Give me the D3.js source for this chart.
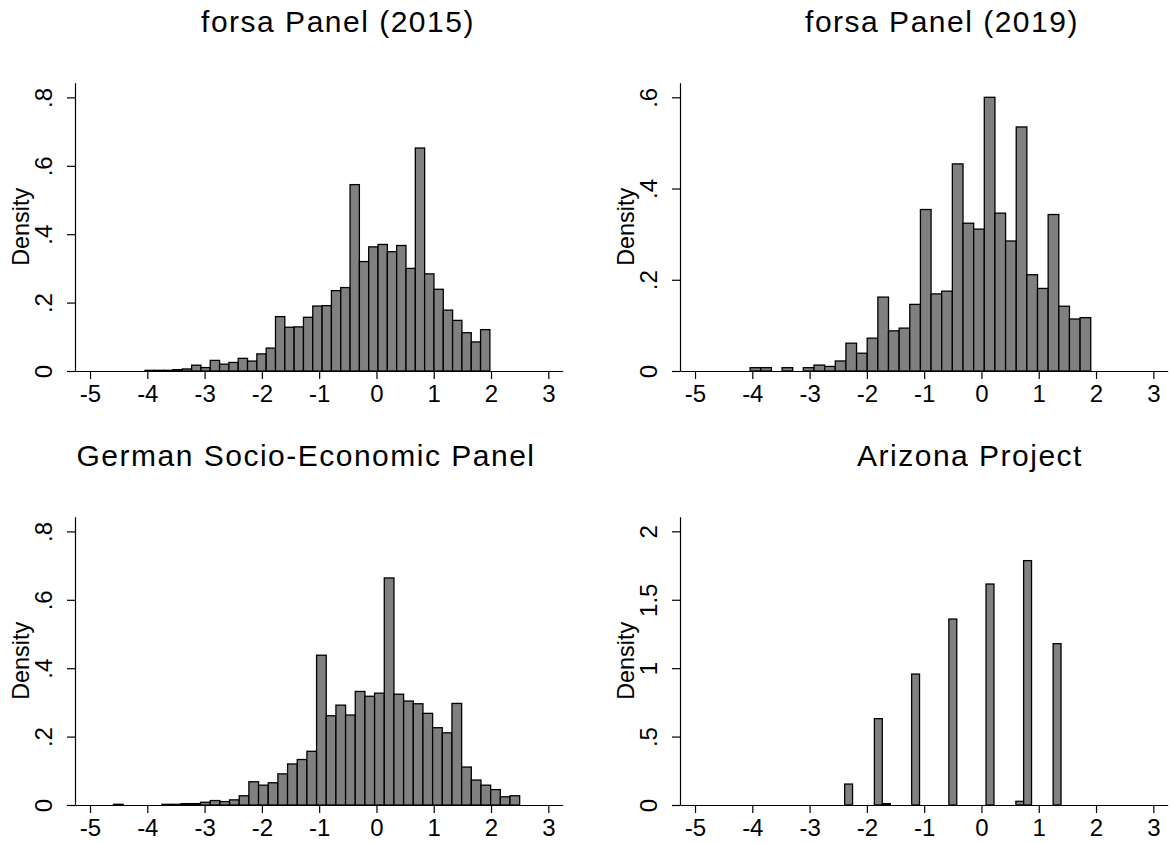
<!DOCTYPE html>
<html>
<head>
<meta charset="utf-8">
<script src="https://cdn.jsdelivr.net/npm/d3@7"></script>
<style>
  body { margin: 0; background: #fff; }
  svg { display: block; }
  text { font-family: "Liberation Sans", Arial, Helvetica, sans-serif; fill: #000; }
</style>
</head>
<body>
<svg id="chart" width="1173" height="843"></svg>
<script>
// ---- Data -------------------------------------------------------------
const panelTitles = ["forsa Panel (2015)", "forsa Panel (2019)", "German Socio-Economic Panel", "Arizona Project"];
const yAxisTitle = "Density";

const xTickValues = [-5, -4, -3, -2, -1, 0, 1, 2, 3];
const xTickLabels = ["-5", "-4", "-3", "-2", "-1", "0", "1", "2", "3"];

// forsa Panel (2015): equal-width bins
const forsa2015Start = -4.04;
const forsa2015BinWidth = 0.1627;
const forsa2015Density = [0.002, 0.002, 0.002, 0.004, 0.006, 0.017, 0.010, 0.031, 0.020, 0.025,
  0.037, 0.029, 0.050, 0.067, 0.159, 0.128, 0.129, 0.157, 0.190, 0.191,
  0.235, 0.244, 0.545, 0.320, 0.363, 0.370, 0.349, 0.367, 0.300, 0.652,
  0.284, 0.239, 0.178, 0.148, 0.112, 0.085, 0.121];
const forsa2015YTicks = [0, 0.2, 0.4, 0.6, 0.8];
const forsa2015YLabels = ["0", ".2", ".4", ".6", ".8"];
const forsa2015YMax = 0.843;

// forsa Panel (2019)
const forsa2019Start = -4.038;
const forsa2019BinWidth = 0.1858;
const forsa2019Density = [0.0073, 0.0073, 0, 0.0073, 0, 0.0073, 0.013, 0.010, 0.022, 0.061,
  0.039, 0.072, 0.162, 0.088, 0.094, 0.146, 0.354, 0.169, 0.175, 0.454,
  0.324, 0.311, 0.600, 0.346, 0.285, 0.535, 0.211, 0.181, 0.343, 0.142,
  0.114, 0.117];
const forsa2019YTicks = [0, 0.2, 0.4, 0.6];
const forsa2019YLabels = ["0", ".2", ".4", ".6"];
const forsa2019YMax = 0.632;

// German Socio-Economic Panel
const soepStart = -4.59;
const soepBinWidth = 0.1688;
const soepDensity = [0.002, 0, 0, 0, 0, 0.002, 0.002, 0.004, 0.004, 0.008,
  0.013, 0.010, 0.015, 0.027, 0.068, 0.058, 0.065, 0.091, 0.120, 0.133,
  0.157, 0.438, 0.261, 0.292, 0.263, 0.332, 0.318, 0.327, 0.664, 0.324,
  0.304, 0.296, 0.268, 0.226, 0.211, 0.297, 0.111, 0.073, 0.058, 0.045,
  0.024, 0.027];
const soepYTicks = [0, 0.2, 0.4, 0.6, 0.8];
const soepYLabels = ["0", ".2", ".4", ".6", ".8"];
const soepYMax = 0.843;

// Arizona Project: only a handful of occupied bins
const arizonaBinWidth = 0.138;
const arizonaBinStarts = [-2.388, -1.869, -1.729, -1.219, -0.569, 0.080, 0.601, 0.736, 1.251];
const arizonaDensity = [0.153, 0.631, 0.010, 0.957, 1.359, 1.615, 0.027, 1.786, 1.179];
const arizonaYTicks = [0, 0.5, 1, 1.5, 2];
const arizonaYLabels = ["0", ".5", "1", "1.5", "2"];
const arizonaYMax = 2.107;

// ---- Helpers -------------------------------------------------------------
const regularBins = (start, w, dens) => dens.map((d, i) => ({ x0: start + i * w, x1: start + (i + 1) * w, d }));
const listedBins = (starts, w, dens) => dens.map((d, i) => ({ x0: starts[i], x1: starts[i] + w, d }));

const panels = [
  { title: panelTitles[0], bins: regularBins(forsa2015Start, forsa2015BinWidth, forsa2015Density),
    yTicks: forsa2015YTicks, yLabels: forsa2015YLabels, yMax: forsa2015YMax,
    left: 75, top: 82.7, titleX: 338 },
  { title: panelTitles[1], bins: regularBins(forsa2019Start, forsa2019BinWidth, forsa2019Density),
    yTicks: forsa2019YTicks, yLabels: forsa2019YLabels, yMax: forsa2019YMax,
    left: 680, top: 82.7, titleX: 942 },
  { title: panelTitles[2], bins: regularBins(soepStart, soepBinWidth, soepDensity),
    yTicks: soepYTicks, yLabels: soepYLabels, yMax: soepYMax,
    left: 75, top: 516.7, titleX: 306 },
  { title: panelTitles[3], bins: listedBins(arizonaBinStarts, arizonaBinWidth, arizonaDensity),
    yTicks: arizonaYTicks, yLabels: arizonaYLabels, yMax: arizonaYMax,
    left: 680, top: 516.7, titleX: 970 }
];

const plotW = 487.7, plotH = 288.3;
const xDomain = [-5.262, 3.251];
const svg = d3.select("#chart");

panels.forEach(p => {
  const x = d3.scaleLinear().domain(xDomain).range([p.left, p.left + plotW]);
  const y = d3.scaleLinear().domain([0, p.yMax]).range([p.top + plotH, p.top]);
  const base = p.top + plotH;
  const g = svg.append("g");

  // title
  g.append("text")
    .attr("x", p.titleX).attr("y", p.top - 50.4)
    .attr("text-anchor", "middle")
    .style("font-size", "30px").style("letter-spacing", "1.5px")
    .text(p.title);

  // y axis title
  g.append("text")
    .attr("transform", `translate(${p.left - 46.5},${p.top + plotH / 2}) rotate(-90)`)
    .attr("text-anchor", "middle")
    .style("font-size", "23.4px")
    .text(yAxisTitle);

  // bars
  g.append("g").selectAll("rect").data(p.bins).join("rect")
    .attr("x", d => x(d.x0))
    .attr("width", d => x(d.x1) - x(d.x0))
    .attr("y", d => y(d.d))
    .attr("height", d => base - y(d.d))
    .attr("fill", "#808080")
    .attr("stroke", "#000")
    .attr("stroke-width", 1.3);

  // x axis
  const xa = g.append("g").attr("transform", `translate(0,${base})`)
    .call(d3.axisBottom(x).tickValues(xTickValues)
      .tickFormat((d, i) => xTickLabels[i]).tickSize(8).tickSizeOuter(0));
  xa.select(".domain").attr("stroke-width", 1.2);
  xa.selectAll(".tick line").attr("stroke-width", 1.2);
  xa.selectAll(".tick text").attr("y", 30.7).attr("dy", 0)
    .style("font-size", "24px").style("font-family", null);

  // y axis
  const ya = g.append("g").attr("transform", `translate(${p.left},0)`)
    .call(d3.axisLeft(y).tickValues(p.yTicks)
      .tickFormat((d, i) => p.yLabels[i]).tickSize(8).tickSizeOuter(0));
  ya.select(".domain").attr("stroke-width", 1.2);
  ya.selectAll(".tick line").attr("stroke-width", 1.2);
  ya.selectAll(".tick text")
    .attr("x", null).attr("dy", 0)
    .attr("text-anchor", "middle")
    .attr("transform", "translate(-23.3,0) rotate(-90)")
    .style("font-size", "24px").style("font-family", null);
});
</script>
</body>
</html>
